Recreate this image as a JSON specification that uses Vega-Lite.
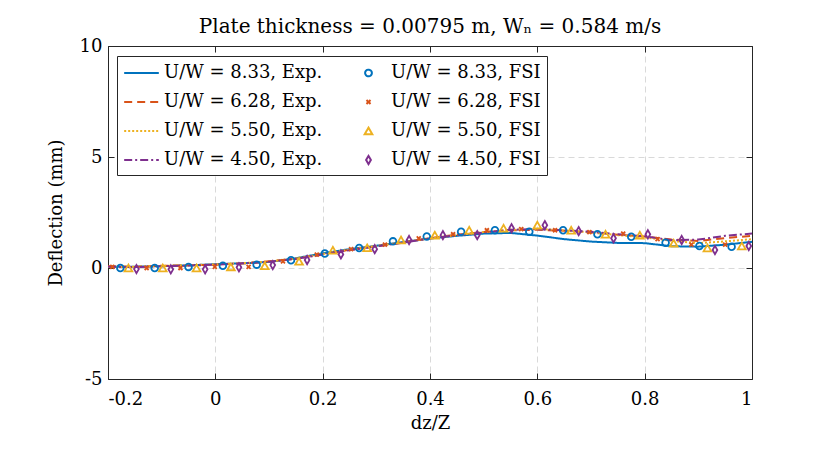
{
  "$schema": "https://vega.github.io/schema/vega-lite/v6.json",
  "description": "Plate deflection along dz/Z, experiment lines and FSI markers",
  "width": 644,
  "height": 333,
  "autosize": "none",
  "padding": {"left": 108, "top": 46, "right": 78, "bottom": 78},
  "background": "white",
  "title": {
    "text": "Plate thickness = 0.00795 m, Wₙ = 0.584 m/s",
    "font": "DejaVu Serif",
    "fontSize": 20,
    "fontWeight": "normal",
    "color": "black",
    "offset": 0
  },
  "datasets": {
    "exp": [
      {"dz": -0.2, "defl": 0.05, "series": "U/W = 8.33, Exp."},
      {"dz": -0.15, "defl": 0.06, "series": "U/W = 8.33, Exp."},
      {"dz": -0.1, "defl": 0.08, "series": "U/W = 8.33, Exp."},
      {"dz": -0.05, "defl": 0.12, "series": "U/W = 8.33, Exp."},
      {"dz": 0, "defl": 0.17, "series": "U/W = 8.33, Exp."},
      {"dz": 0.05, "defl": 0.21, "series": "U/W = 8.33, Exp."},
      {"dz": 0.1, "defl": 0.27, "series": "U/W = 8.33, Exp."},
      {"dz": 0.15, "defl": 0.44, "series": "U/W = 8.33, Exp."},
      {"dz": 0.2, "defl": 0.66, "series": "U/W = 8.33, Exp."},
      {"dz": 0.25, "defl": 0.85, "series": "U/W = 8.33, Exp."},
      {"dz": 0.3, "defl": 1.0, "series": "U/W = 8.33, Exp."},
      {"dz": 0.35, "defl": 1.17, "series": "U/W = 8.33, Exp."},
      {"dz": 0.4, "defl": 1.33, "series": "U/W = 8.33, Exp."},
      {"dz": 0.45, "defl": 1.45, "series": "U/W = 8.33, Exp."},
      {"dz": 0.5, "defl": 1.55, "series": "U/W = 8.33, Exp."},
      {"dz": 0.55, "defl": 1.58, "series": "U/W = 8.33, Exp."},
      {"dz": 0.6, "defl": 1.46, "series": "U/W = 8.33, Exp."},
      {"dz": 0.65, "defl": 1.3, "series": "U/W = 8.33, Exp."},
      {"dz": 0.7, "defl": 1.19, "series": "U/W = 8.33, Exp."},
      {"dz": 0.75, "defl": 1.13, "series": "U/W = 8.33, Exp."},
      {"dz": 0.8, "defl": 1.12, "series": "U/W = 8.33, Exp."},
      {"dz": 0.85, "defl": 0.98, "series": "U/W = 8.33, Exp."},
      {"dz": 0.9, "defl": 0.96, "series": "U/W = 8.33, Exp."},
      {"dz": 0.95, "defl": 1.05, "series": "U/W = 8.33, Exp."},
      {"dz": 1.0, "defl": 1.18, "series": "U/W = 8.33, Exp."},

      {"dz": -0.2, "defl": 0.08, "series": "U/W = 6.28, Exp."},
      {"dz": -0.15, "defl": 0.05, "series": "U/W = 6.28, Exp."},
      {"dz": -0.1, "defl": 0.1, "series": "U/W = 6.28, Exp."},
      {"dz": -0.05, "defl": 0.12, "series": "U/W = 6.28, Exp."},
      {"dz": 0, "defl": 0.15, "series": "U/W = 6.28, Exp."},
      {"dz": 0.05, "defl": 0.2, "series": "U/W = 6.28, Exp."},
      {"dz": 0.1, "defl": 0.3, "series": "U/W = 6.28, Exp."},
      {"dz": 0.15, "defl": 0.42, "series": "U/W = 6.28, Exp."},
      {"dz": 0.2, "defl": 0.62, "series": "U/W = 6.28, Exp."},
      {"dz": 0.25, "defl": 0.82, "series": "U/W = 6.28, Exp."},
      {"dz": 0.3, "defl": 0.98, "series": "U/W = 6.28, Exp."},
      {"dz": 0.35, "defl": 1.15, "series": "U/W = 6.28, Exp."},
      {"dz": 0.4, "defl": 1.35, "series": "U/W = 6.28, Exp."},
      {"dz": 0.45, "defl": 1.5, "series": "U/W = 6.28, Exp."},
      {"dz": 0.5, "defl": 1.62, "series": "U/W = 6.28, Exp."},
      {"dz": 0.55, "defl": 1.7, "series": "U/W = 6.28, Exp."},
      {"dz": 0.6, "defl": 1.72, "series": "U/W = 6.28, Exp."},
      {"dz": 0.65, "defl": 1.68, "series": "U/W = 6.28, Exp."},
      {"dz": 0.7, "defl": 1.6, "series": "U/W = 6.28, Exp."},
      {"dz": 0.75, "defl": 1.5, "series": "U/W = 6.28, Exp."},
      {"dz": 0.8, "defl": 1.42, "series": "U/W = 6.28, Exp."},
      {"dz": 0.85, "defl": 1.28, "series": "U/W = 6.28, Exp."},
      {"dz": 0.9, "defl": 1.22, "series": "U/W = 6.28, Exp."},
      {"dz": 0.95, "defl": 1.35, "series": "U/W = 6.28, Exp."},
      {"dz": 1.0, "defl": 1.45, "series": "U/W = 6.28, Exp."},

      {"dz": -0.2, "defl": 0.04, "series": "U/W = 5.50, Exp."},
      {"dz": -0.15, "defl": 0.06, "series": "U/W = 5.50, Exp."},
      {"dz": -0.1, "defl": 0.09, "series": "U/W = 5.50, Exp."},
      {"dz": -0.05, "defl": 0.13, "series": "U/W = 5.50, Exp."},
      {"dz": 0, "defl": 0.16, "series": "U/W = 5.50, Exp."},
      {"dz": 0.05, "defl": 0.22, "series": "U/W = 5.50, Exp."},
      {"dz": 0.1, "defl": 0.29, "series": "U/W = 5.50, Exp."},
      {"dz": 0.15, "defl": 0.43, "series": "U/W = 5.50, Exp."},
      {"dz": 0.2, "defl": 0.63, "series": "U/W = 5.50, Exp."},
      {"dz": 0.25, "defl": 0.83, "series": "U/W = 5.50, Exp."},
      {"dz": 0.3, "defl": 0.99, "series": "U/W = 5.50, Exp."},
      {"dz": 0.35, "defl": 1.16, "series": "U/W = 5.50, Exp."},
      {"dz": 0.4, "defl": 1.34, "series": "U/W = 5.50, Exp."},
      {"dz": 0.45, "defl": 1.48, "series": "U/W = 5.50, Exp."},
      {"dz": 0.5, "defl": 1.62, "series": "U/W = 5.50, Exp."},
      {"dz": 0.55, "defl": 1.72, "series": "U/W = 5.50, Exp."},
      {"dz": 0.6, "defl": 1.76, "series": "U/W = 5.50, Exp."},
      {"dz": 0.65, "defl": 1.7, "series": "U/W = 5.50, Exp."},
      {"dz": 0.7, "defl": 1.6, "series": "U/W = 5.50, Exp."},
      {"dz": 0.75, "defl": 1.48, "series": "U/W = 5.50, Exp."},
      {"dz": 0.8, "defl": 1.38, "series": "U/W = 5.50, Exp."},
      {"dz": 0.85, "defl": 1.22, "series": "U/W = 5.50, Exp."},
      {"dz": 0.9, "defl": 1.12, "series": "U/W = 5.50, Exp."},
      {"dz": 0.95, "defl": 1.2, "series": "U/W = 5.50, Exp."},
      {"dz": 1.0, "defl": 1.3, "series": "U/W = 5.50, Exp."},

      {"dz": -0.2, "defl": 0.06, "series": "U/W = 4.50, Exp."},
      {"dz": -0.15, "defl": 0.04, "series": "U/W = 4.50, Exp."},
      {"dz": -0.1, "defl": 0.08, "series": "U/W = 4.50, Exp."},
      {"dz": -0.05, "defl": 0.11, "series": "U/W = 4.50, Exp."},
      {"dz": 0, "defl": 0.15, "series": "U/W = 4.50, Exp."},
      {"dz": 0.05, "defl": 0.21, "series": "U/W = 4.50, Exp."},
      {"dz": 0.1, "defl": 0.28, "series": "U/W = 4.50, Exp."},
      {"dz": 0.15, "defl": 0.41, "series": "U/W = 4.50, Exp."},
      {"dz": 0.2, "defl": 0.61, "series": "U/W = 4.50, Exp."},
      {"dz": 0.25, "defl": 0.8, "series": "U/W = 4.50, Exp."},
      {"dz": 0.3, "defl": 0.97, "series": "U/W = 4.50, Exp."},
      {"dz": 0.35, "defl": 1.14, "series": "U/W = 4.50, Exp."},
      {"dz": 0.4, "defl": 1.33, "series": "U/W = 4.50, Exp."},
      {"dz": 0.45, "defl": 1.48, "series": "U/W = 4.50, Exp."},
      {"dz": 0.5, "defl": 1.6, "series": "U/W = 4.50, Exp."},
      {"dz": 0.55, "defl": 1.72, "series": "U/W = 4.50, Exp."},
      {"dz": 0.6, "defl": 1.75, "series": "U/W = 4.50, Exp."},
      {"dz": 0.65, "defl": 1.7, "series": "U/W = 4.50, Exp."},
      {"dz": 0.7, "defl": 1.63, "series": "U/W = 4.50, Exp."},
      {"dz": 0.75, "defl": 1.52, "series": "U/W = 4.50, Exp."},
      {"dz": 0.8, "defl": 1.43, "series": "U/W = 4.50, Exp."},
      {"dz": 0.85, "defl": 1.25, "series": "U/W = 4.50, Exp."},
      {"dz": 0.9, "defl": 1.28, "series": "U/W = 4.50, Exp."},
      {"dz": 0.95, "defl": 1.45, "series": "U/W = 4.50, Exp."},
      {"dz": 1.0, "defl": 1.55, "series": "U/W = 4.50, Exp."}
    ],
    "fsi": [
      {"dz": -0.177, "defl": 0.0, "series": "U/W = 8.33, FSI"},
      {"dz": -0.113, "defl": 0.0, "series": "U/W = 8.33, FSI"},
      {"dz": -0.05, "defl": 0.05, "series": "U/W = 8.33, FSI"},
      {"dz": 0.014, "defl": 0.1, "series": "U/W = 8.33, FSI"},
      {"dz": 0.077, "defl": 0.15, "series": "U/W = 8.33, FSI"},
      {"dz": 0.141, "defl": 0.35, "series": "U/W = 8.33, FSI"},
      {"dz": 0.204, "defl": 0.65, "series": "U/W = 8.33, FSI"},
      {"dz": 0.268, "defl": 0.9, "series": "U/W = 8.33, FSI"},
      {"dz": 0.331, "defl": 1.2, "series": "U/W = 8.33, FSI"},
      {"dz": 0.394, "defl": 1.42, "series": "U/W = 8.33, FSI"},
      {"dz": 0.458, "defl": 1.63, "series": "U/W = 8.33, FSI"},
      {"dz": 0.521, "defl": 1.7, "series": "U/W = 8.33, FSI"},
      {"dz": 0.585, "defl": 1.63, "series": "U/W = 8.33, FSI"},
      {"dz": 0.648, "defl": 1.7, "series": "U/W = 8.33, FSI"},
      {"dz": 0.712, "defl": 1.52, "series": "U/W = 8.33, FSI"},
      {"dz": 0.775, "defl": 1.41, "series": "U/W = 8.33, FSI"},
      {"dz": 0.839, "defl": 1.14, "series": "U/W = 8.33, FSI"},
      {"dz": 0.902, "defl": 0.99, "series": "U/W = 8.33, FSI"},
      {"dz": 0.962, "defl": 0.96, "series": "U/W = 8.33, FSI"},

      {"dz": -0.192, "defl": 0.05, "series": "U/W = 6.28, FSI"},
      {"dz": -0.128, "defl": 0.0, "series": "U/W = 6.28, FSI"},
      {"dz": -0.065, "defl": 0.0, "series": "U/W = 6.28, FSI"},
      {"dz": -0.001, "defl": 0.05, "series": "U/W = 6.28, FSI"},
      {"dz": 0.062, "defl": 0.05, "series": "U/W = 6.28, FSI"},
      {"dz": 0.126, "defl": 0.3, "series": "U/W = 6.28, FSI"},
      {"dz": 0.189, "defl": 0.6, "series": "U/W = 6.28, FSI"},
      {"dz": 0.253, "defl": 0.85, "series": "U/W = 6.28, FSI"},
      {"dz": 0.316, "defl": 1.05, "series": "U/W = 6.28, FSI"},
      {"dz": 0.379, "defl": 1.33, "series": "U/W = 6.28, FSI"},
      {"dz": 0.443, "defl": 1.52, "series": "U/W = 6.28, FSI"},
      {"dz": 0.506, "defl": 1.7, "series": "U/W = 6.28, FSI"},
      {"dz": 0.57, "defl": 1.75, "series": "U/W = 6.28, FSI"},
      {"dz": 0.633, "defl": 1.7, "series": "U/W = 6.28, FSI"},
      {"dz": 0.697, "defl": 1.62, "series": "U/W = 6.28, FSI"},
      {"dz": 0.76, "defl": 1.55, "series": "U/W = 6.28, FSI"},
      {"dz": 0.824, "defl": 1.3, "series": "U/W = 6.28, FSI"},
      {"dz": 0.887, "defl": 1.05, "series": "U/W = 6.28, FSI"},
      {"dz": 0.95, "defl": 1.05, "series": "U/W = 6.28, FSI"},

      {"dz": -0.162, "defl": 0.0, "series": "U/W = 5.50, FSI"},
      {"dz": -0.098, "defl": 0.0, "series": "U/W = 5.50, FSI"},
      {"dz": -0.035, "defl": 0.0, "series": "U/W = 5.50, FSI"},
      {"dz": 0.029, "defl": 0.05, "series": "U/W = 5.50, FSI"},
      {"dz": 0.092, "defl": 0.1, "series": "U/W = 5.50, FSI"},
      {"dz": 0.156, "defl": 0.3, "series": "U/W = 5.50, FSI"},
      {"dz": 0.219, "defl": 0.8, "series": "U/W = 5.50, FSI"},
      {"dz": 0.283, "defl": 0.91, "series": "U/W = 5.50, FSI"},
      {"dz": 0.346, "defl": 1.26, "series": "U/W = 5.50, FSI"},
      {"dz": 0.409, "defl": 1.48, "series": "U/W = 5.50, FSI"},
      {"dz": 0.473, "defl": 1.7, "series": "U/W = 5.50, FSI"},
      {"dz": 0.537, "defl": 1.79, "series": "U/W = 5.50, FSI"},
      {"dz": 0.6, "defl": 1.93, "series": "U/W = 5.50, FSI"},
      {"dz": 0.663, "defl": 1.7, "series": "U/W = 5.50, FSI"},
      {"dz": 0.727, "defl": 1.52, "series": "U/W = 5.50, FSI"},
      {"dz": 0.791, "defl": 1.48, "series": "U/W = 5.50, FSI"},
      {"dz": 0.854, "defl": 1.12, "series": "U/W = 5.50, FSI"},
      {"dz": 0.917, "defl": 0.9, "series": "U/W = 5.50, FSI"},
      {"dz": 0.981, "defl": 0.99, "series": "U/W = 5.50, FSI"},

      {"dz": -0.147, "defl": -0.05, "series": "U/W = 4.50, FSI"},
      {"dz": -0.083, "defl": -0.06, "series": "U/W = 4.50, FSI"},
      {"dz": -0.019, "defl": -0.06, "series": "U/W = 4.50, FSI"},
      {"dz": 0.044, "defl": 0.03, "series": "U/W = 4.50, FSI"},
      {"dz": 0.107, "defl": 0.13, "series": "U/W = 4.50, FSI"},
      {"dz": 0.171, "defl": 0.36, "series": "U/W = 4.50, FSI"},
      {"dz": 0.234, "defl": 0.61, "series": "U/W = 4.50, FSI"},
      {"dz": 0.297, "defl": 0.85, "series": "U/W = 4.50, FSI"},
      {"dz": 0.361, "defl": 1.26, "series": "U/W = 4.50, FSI"},
      {"dz": 0.424, "defl": 1.48, "series": "U/W = 4.50, FSI"},
      {"dz": 0.488, "defl": 1.48, "series": "U/W = 4.50, FSI"},
      {"dz": 0.552, "defl": 1.79, "series": "U/W = 4.50, FSI"},
      {"dz": 0.614, "defl": 1.93, "series": "U/W = 4.50, FSI"},
      {"dz": 0.677, "defl": 1.66, "series": "U/W = 4.50, FSI"},
      {"dz": 0.742, "defl": 1.34, "series": "U/W = 4.50, FSI"},
      {"dz": 0.806, "defl": 1.52, "series": "U/W = 4.50, FSI"},
      {"dz": 0.869, "defl": 1.26, "series": "U/W = 4.50, FSI"},
      {"dz": 0.931, "defl": 0.81, "series": "U/W = 4.50, FSI"},
      {"dz": 0.994, "defl": 0.99, "series": "U/W = 4.50, FSI"}
    ]
  },
  "layer": [
    {
      "data": {"name": "exp"},
      "mark": {"type": "line", "strokeWidth": 2},
      "encoding": {
        "x": {
          "field": "dz",
          "type": "quantitative",
          "scale": {"domain": [-0.2, 1], "nice": false, "zero": false},
          "axis": {
            "orient": "bottom",
            "title": "dz/Z",
            "values": [-0.2, 0, 0.2, 0.4, 0.6, 0.8, 1],
            "labelExpr": "'' + datum.value",
            "grid": true,
            "tickSize": -6,
            "labelPadding": 17,
            "titlePadding": 6
          }
        },
        "y": {
          "field": "defl",
          "type": "quantitative",
          "scale": {"domain": [-5, 10], "nice": false, "zero": false},
          "axis": {
            "orient": "left",
            "title": "Deflection (mm)",
            "values": [-5, 0, 5, 10],
            "labelExpr": "'' + datum.value",
            "grid": true,
            "tickSize": -6,
            "labelPadding": 12,
            "titlePadding": 14
          }
        },
        "color": {
          "field": "series",
          "type": "nominal",
          "scale": {
            "domain": ["U/W = 8.33, Exp.", "U/W = 6.28, Exp.", "U/W = 5.50, Exp.", "U/W = 4.50, Exp.", "U/W = 8.33, FSI", "U/W = 6.28, FSI", "U/W = 5.50, FSI", "U/W = 4.50, FSI"],
            "range": ["#0072BD", "#D95319", "#EDB120", "#7E2F8E", "#0072BD", "#D95319", "#EDB120", "#7E2F8E"]
          },
          "legend": {
            "title": null,
            "orient": "none",
            "legendX": 9,
            "legendY": 10,
            "columns": 2,
            "gridAlign": "all",
            "symbolStrokeWidth": 2,
            "labelFont": "DejaVu Serif",
            "labelFontSize": 18,
            "labelColor": "black",
            "labelLimit": 0,
            "labelOffset": 4,
            "rowPadding": 9,
            "columnPadding": 27,
            "padding": 6,
            "strokeColor": "#262626",
            "fillColor": "white",
            "encode": {
              "symbols": {"update": {"y": {"value": 11}}},
              "labels": {"update": {"y": {"value": 11}, "baseline": {"value": "middle"}}}
            }
          }
        },
        "strokeDash": {
          "field": "series",
          "type": "nominal",
          "scale": {
            "domain": ["U/W = 8.33, Exp.", "U/W = 6.28, Exp.", "U/W = 5.50, Exp.", "U/W = 4.50, Exp.", "U/W = 8.33, FSI", "U/W = 6.28, FSI", "U/W = 5.50, FSI", "U/W = 4.50, FSI"],
            "range": [[1, 0], [8, 5], [2, 2], [8, 3, 2, 3], [1, 0], [1, 0], [1, 0], [1, 0]]
          }
        }
      }
    },
    {
      "data": {"name": "fsi"},
      "mark": {"type": "point", "filled": false, "strokeWidth": 1.8, "opacity": 1},
      "encoding": {
        "x": {
          "field": "dz",
          "type": "quantitative",
          "axis": {"orient": "top", "title": null, "labels": false, "grid": false, "values": [-0.2, 0, 0.2, 0.4, 0.6, 0.8, 1], "tickSize": -6}
        },
        "y": {
          "field": "defl",
          "type": "quantitative",
          "axis": {"orient": "right", "title": null, "labels": false, "grid": false, "values": [-5, 0, 5, 10], "tickSize": -6}
        },
        "color": {"field": "series", "type": "nominal"},
        "shape": {
          "field": "series",
          "type": "nominal",
          "scale": {
            "domain": ["U/W = 8.33, Exp.", "U/W = 6.28, Exp.", "U/W = 5.50, Exp.", "U/W = 4.50, Exp.", "U/W = 8.33, FSI", "U/W = 6.28, FSI", "U/W = 5.50, FSI", "U/W = 4.50, FSI"],
            "range": ["stroke", "stroke", "stroke", "stroke", "circle", "M-1,-1L1,1M1,-1L-1,1", "triangle-up", "M0,-1.3L0.75,0L0,1.3L-0.75,0Z"]
          }
        },
        "size": {
          "field": "series",
          "type": "nominal",
          "scale": {
            "type": "ordinal",
            "domain": ["U/W = 8.33, Exp.", "U/W = 6.28, Exp.", "U/W = 5.50, Exp.", "U/W = 4.50, Exp.", "U/W = 8.33, FSI", "U/W = 6.28, FSI", "U/W = 5.50, FSI", "U/W = 4.50, FSI"],
            "range": [1200, 1200, 1200, 1200, 45, 16, 60, 40]
          }
        }
      }
    }
  ],
  "resolve": {"axis": {"x": "independent", "y": "independent"}},
  "config": {
    "view": {"stroke": null},
    "axis": {
      "domainColor": "#262626",
      "domainWidth": 1,
      "tickColor": "#262626",
      "tickWidth": 1,
      "gridColor": "#d9d9d9",
      "gridDash": [6, 4],
      "gridWidth": 1,
      "labelFont": "DejaVu Serif",
      "labelFontSize": 18,
      "labelColor": "black",
      "titleFont": "DejaVu Serif",
      "titleFontSize": 18,
      "titleFontWeight": "normal",
      "titleColor": "black"
    }
  }
}
